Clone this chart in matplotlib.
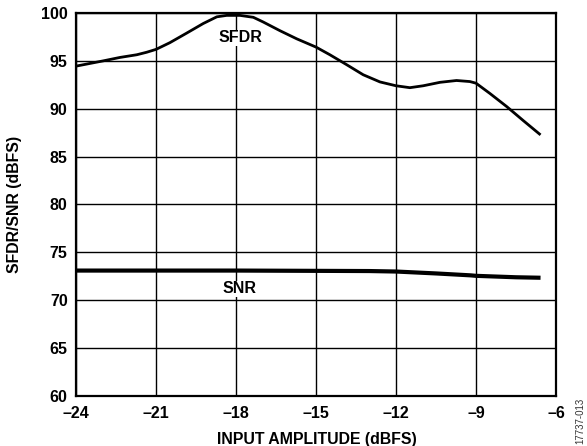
import matplotlib
matplotlib.use("Agg")
import matplotlib.pyplot as plt

sfdr_x = [-24.0, -22.98, -22.35, -21.72, -21.35, -21.0, -20.48, -19.85, -19.23, -18.72,
          -18.35, -17.85, -17.35, -16.98, -16.35, -15.72, -15.0, -14.48, -13.85, -13.23,
          -12.6, -12.0, -11.48, -10.98, -10.35, -9.73, -9.23, -9.0, -8.48, -7.85, -7.23, -6.58]
sfdr_y = [94.45, 95.0, 95.36, 95.64, 95.9, 96.2, 96.9, 97.9, 98.9, 99.6,
          99.75, 99.75, 99.55, 99.06, 98.15, 97.3, 96.44, 95.64, 94.6, 93.55,
          92.8, 92.4, 92.2, 92.4, 92.76, 92.95, 92.84, 92.67, 91.6, 90.23, 88.77, 87.27]
snr_x = [-24, -21, -18, -15, -13, -12, -10.5, -9.2, -9, -7.5, -6.58]
snr_y = [73.1, 73.1, 73.1, 73.07, 73.05, 73.0, 72.8, 72.6, 72.55, 72.4, 72.35]

xticks = [-24, -21, -18, -15, -12, -9, -6]
xtick_labels = ["–24", "–21", "–18", "–15", "–12", "–9", "–6"]
yticks = [60, 65, 70, 75, 80, 85, 90, 95, 100]

plt.rcParams['font.family'] = ['Liberation Sans', 'DejaVu Sans']

fig = plt.figure(figsize=(5.87, 4.46), dpi=100)
ax = fig.add_axes([76/587, 1 - 396/446, (556-76)/587, (396-13)/446])

ax.plot(sfdr_x, sfdr_y, color='black', lw=2.0, solid_capstyle='butt',
        solid_joinstyle='round', zorder=3)
ax.plot(snr_x, snr_y, color='black', lw=3.0, solid_capstyle='butt',
        solid_joinstyle='round', zorder=3)

ax.set_xlim(-24, -6)
ax.set_ylim(60, 100)
ax.set_xticks(xticks)
ax.set_xticklabels(xtick_labels)
ax.set_yticks(yticks)
ax.grid(True, color='black', lw=1.0)
ax.set_axisbelow(True)
for s in ax.spines.values():
    s.set_linewidth(1.6)
    s.set_color('black')
ax.tick_params(axis='x', length=0, pad=7.5, labelsize=11.5)
ax.tick_params(axis='y', length=0, pad=6, labelsize=11.5)
for lab in ax.get_xticklabels() + ax.get_yticklabels():
    lab.set_fontweight('bold')

ax.text(-17.85, 97.4, "SFDR", ha='center', va='center', fontsize=11.5, fontweight='bold',
        bbox=dict(facecolor='white', edgecolor='none', pad=0.5), zorder=4)
ax.text(-17.85, 71.2, "SNR", ha='center', va='center', fontsize=11.5, fontweight='bold',
        bbox=dict(facecolor='white', edgecolor='none', pad=0.5), zorder=4)

ax.set_xlabel("INPUT AMPLITUDE (dBFS)", fontsize=11.4, fontweight='bold')
ax.set_ylabel("SFDR/SNR (dBFS)", fontsize=11.4, fontweight='bold')
ax.xaxis.set_label_coords(0.502, -0.094)
ax.yaxis.set_label_coords(-0.1125, 0.5)

fig.text(580/587, 1 - 398/446, "17737-013", rotation=90, fontsize=7,
         ha='center', va='top', color='#333333')

fig.savefig("out.png", dpi=100)
